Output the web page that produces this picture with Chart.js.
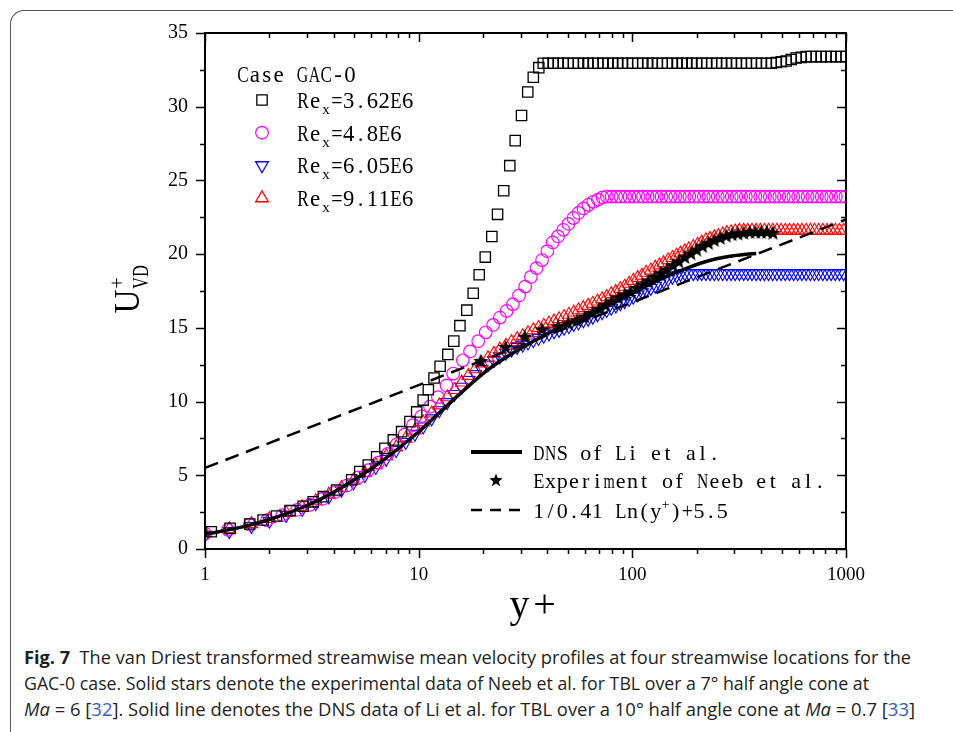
<!DOCTYPE html>
<html>
<head>
<meta charset="utf-8">
<script src="https://cdn.jsdelivr.net/npm/chart.js@4.4.0/dist/chart.umd.min.js"></script>
<style>
  html, body { margin: 0; padding: 0; background: #fff; }
  body { width: 953px; height: 732px; position: relative; overflow: hidden; }
  #frame { position: absolute; left: 10px; top: 10px; width: 990px; height: 780px;
           border-top: 1px solid #555; border-left: 1px solid #555; border-top-left-radius: 14px; }
  #plot { position: absolute; left: 0; top: 0; }
  .cap { position: absolute; left: 24px; white-space: nowrap; font-family: "Open Sans", "Noto Sans", sans-serif;
         font-size: 18px; line-height: 24px; color: #231f20; transform-origin: 0 0; }
  .cap b { font-weight: 700; }
  .ref { color: #2f5fc4; }
</style>
</head>
<body>
<div id="frame"></div>
<canvas id="plot" width="953" height="640"></canvas>
<div class="cap" data-w="887" style="top:645px"><b>Fig. 7</b>&nbsp; The van Driest transformed streamwise mean velocity profiles at four streamwise locations for the</div>
<div class="cap" data-w="845" style="top:671px">GAC-0 case. Solid stars denote the experimental data of Neeb et al. for TBL over a 7° half angle cone at</div>
<div class="cap" data-w="891" style="top:697px"><i>Ma</i> = 6 [<span class="ref">32</span>]. Solid line denotes the DNS data of Li et al. for TBL over a 10° half angle cone at <i>Ma</i> = 0.7 [<span class="ref">33</span>]</div>
<script>
// y+ and van Driest velocity U+_VD at each streamwise station
const sqX = [1.07, 1.31, 1.62, 1.87, 2.16, 2.5, 2.88, 3.21, 3.58, 4.13,
  4.86, 5.3, 5.81, 6.36, 6.95, 7.61, 8.32, 9.1, 9.79, 10.5,
  11.1, 11.8, 12.6, 13.7, 14.6, 15.6, 16.8, 18.0, 19.2, 20.5,
  22.0, 23.4, 25.0, 26.7, 28.3, 30.3, 32.4, 34.4, 36.5, 38.3, 40.4,
  42.6, 45, 47.5, 50, 53, 56, 59, 62, 65.5, 69,
  73, 77, 81, 85.5, 90, 95, 100, 106, 112, 118,
  124, 131, 138, 146, 154, 162, 171, 180, 190, 200,
  211, 223, 235, 248, 262, 276, 291, 307, 324, 342,
  361, 381, 402, 424, 447, 472, 498, 525, 554, 585,
  617, 651, 687, 725, 765, 807, 851, 898, 947, 1000];
const sqY = [1.17, 1.4, 1.7, 1.97, 2.24, 2.6, 2.9, 3.2, 3.55, 4.0,
  4.7, 5.25, 5.7, 6.26, 6.83, 7.4, 7.96, 8.64, 9.3, 10.1,
  10.8, 11.6, 12.4, 13.2, 14.1, 15.15, 16.2, 17.35, 18.6, 19.8,
  21.2, 22.7, 24.3, 26.0, 27.7, 29.4, 31.0, 32.0, 32.65, 32.95, 32.95,
  32.95, 32.95, 32.95, 32.95, 32.95, 32.95, 32.95, 32.95, 32.95, 32.95,
  32.95, 32.95, 32.95, 32.95, 32.95, 32.95, 32.95, 32.95, 32.95, 32.95,
  32.95, 32.95, 32.95, 32.95, 32.95, 32.95, 32.95, 32.95, 32.95, 32.95,
  32.95, 32.95, 32.95, 32.95, 32.95, 32.95, 32.95, 32.95, 32.95, 32.95,
  32.95, 32.95, 32.95, 32.95, 32.95, 33.0, 33.05, 33.1, 33.2, 33.3,
  33.35, 33.4, 33.4, 33.4, 33.4, 33.4, 33.4, 33.4, 33.4, 33.4];

const ciX = [1.0, 1.28, 1.62, 1.95, 2.3, 2.7, 3.1, 3.55, 4.05, 4.6,
  5.2, 5.8, 6.45, 7.15, 7.9, 8.6, 9.4, 10.3, 11.3, 12.3,
  13.5, 14.5, 16.1, 17.4, 19.0, 20.6, 22.3, 24.0, 25.8, 27.6,
  29.5, 31.5, 33.5, 35.6, 37.8, 40.0, 42.4, 44.9, 47.5, 50.2,
  53.0, 56.0, 59.1, 62.3, 65.6, 69.0, 72.5,
  76, 80, 84, 88, 92.5, 97, 102, 107, 112, 118,
  124, 130, 137, 144, 151, 159, 167, 176, 185, 195,
  205, 216, 227, 239, 251, 264, 278, 292, 307, 323,
  340, 358, 377, 397, 418, 440, 463, 487, 512, 539,
  567, 597, 628, 661, 696, 732, 770, 810, 852, 897, 944, 993];
const ciY = [1.05, 1.3, 1.65, 1.95, 2.3, 2.65, 3.0, 3.4, 3.85, 4.3,
  4.85, 5.35, 5.85, 6.45, 7.1, 7.75, 8.4, 9.0, 9.65, 10.3,
  11.1, 11.9, 12.8, 13.4, 14.1, 14.7, 15.2, 15.7, 16.15, 16.6,
  17.2, 17.8, 18.45, 19.05, 19.6, 20.2, 20.8, 21.2, 21.65, 22.05,
  22.45, 22.8, 23.1, 23.35, 23.55, 23.7, 23.85,
  23.9, 23.9, 23.9, 23.9, 23.9, 23.9, 23.9, 23.9, 23.9, 23.9,
  23.9, 23.9, 23.9, 23.9, 23.9, 23.9, 23.9, 23.9, 23.9, 23.9,
  23.9, 23.9, 23.9, 23.9, 23.9, 23.9, 23.9, 23.9, 23.9, 23.9,
  23.9, 23.9, 23.9, 23.9, 23.9, 23.9, 23.9, 23.9, 23.9, 23.9,
  23.9, 23.9, 23.9, 23.9, 23.9, 23.9, 23.9, 23.9, 23.9, 23.9, 23.9, 23.9];

// the two downstream stations share one wall-normal grid
const fineX = [1.0, 1.3, 1.65, 2.0, 2.4, 2.85, 3.3, 3.8, 4.35, 4.95,
  5.6, 6.3, 7.05, 7.85, 8.7, 9.6, 10.5, 11.5, 12.5, 13.6,
  14.7, 15.9, 17.1, 18.4, 19.7, 21.1, 22.5, 24.0, 25.6, 27.2,
  28.9, 30.7, 32.5, 34.4, 36.4, 38.5, 40.7, 43.0, 45.4, 47.9,
  50.5, 53.2, 56.0, 59.0, 62.1, 65.3, 68.7, 72.2, 75.9, 79.7,
  83.7, 87.8, 92.1, 96.6, 101, 106, 111, 116, 122, 128,
  134, 140, 147, 154, 161, 168, 176, 184, 193, 202,
  211, 221, 231, 242, 253, 265, 277, 290, 303, 317,
  332, 347, 363, 380, 397, 415, 434, 454, 475, 497,
  520, 544, 569, 595, 622, 651, 681, 712, 745, 779,
  815, 852, 891, 932, 975];
const blY = [0.95, 1.2, 1.55, 1.9, 2.3, 2.7, 3.1, 3.55, 4.0, 4.5,
  5.0, 5.55, 6.1, 6.7, 7.25, 7.8, 8.3, 8.85, 9.4, 9.95,
  10.5, 11.0, 11.45, 11.85, 12.2, 12.5, 12.8, 13.05, 13.3, 13.5,
  13.7, 13.85, 14.0, 14.15, 14.3, 14.45, 14.6, 14.75, 14.85, 15.0,
  15.1, 15.25, 15.35, 15.5, 15.6, 15.75, 15.9, 16.05, 16.2, 16.35,
  16.5, 16.65, 16.8, 16.95, 17.1, 17.25, 17.4, 17.55, 17.7, 17.85,
  18.0, 18.15, 18.3, 18.45, 18.55, 18.65, 18.7, 18.7, 18.7, 18.7,
  18.7, 18.7, 18.7, 18.7, 18.7, 18.7, 18.7, 18.7, 18.7, 18.7,
  18.7, 18.7, 18.7, 18.7, 18.7, 18.7, 18.7, 18.7, 18.7, 18.7,
  18.7, 18.7, 18.7, 18.7, 18.7, 18.7, 18.7, 18.7, 18.7, 18.7,
  18.7, 18.7, 18.7, 18.7, 18.7];
const rdY = [1.1, 1.35, 1.7, 2.05, 2.45, 2.85, 3.25, 3.7, 4.15, 4.65,
  5.15, 5.7, 6.3, 6.9, 7.5, 8.05, 8.6, 9.2, 9.75, 10.3,
  10.8, 11.3, 11.75, 12.2, 12.6, 12.95, 13.25, 13.55, 13.8, 14.05,
  14.25, 14.45, 14.65, 14.85, 15.0, 15.15, 15.3, 15.45, 15.6, 15.75,
  15.9, 16.05, 16.2, 16.35, 16.5, 16.65, 16.8, 16.95, 17.1, 17.3,
  17.45, 17.65, 17.8, 18.0, 18.2, 18.4, 18.55, 18.75, 18.9, 19.1,
  19.25, 19.4, 19.6, 19.75, 19.9, 20.05, 20.2, 20.35, 20.5, 20.65,
  20.8, 20.95, 21.05, 21.15, 21.25, 21.35, 21.45, 21.5, 21.55, 21.6,
  21.6, 21.6, 21.6, 21.6, 21.6, 21.6, 21.6, 21.6, 21.6, 21.6,
  21.6, 21.6, 21.6, 21.6, 21.6, 21.6, 21.6, 21.6, 21.6, 21.6,
  21.6, 21.6, 21.6, 21.6, 21.6];

// Neeb et al. experiment
const expX = [19.5, 25.5, 31.4, 37.8, 45, 50, 55, 60, 65, 70,
  75, 80, 86, 92, 98, 105, 112, 119, 127, 136,
  145, 155, 165, 176, 188, 200, 213, 227, 242, 258,
  275, 293, 312, 332, 354, 377, 401, 427, 455];
const expY = [12.75, 13.7, 14.4, 14.9, 15.1, 15.3, 15.5, 15.75, 16.0, 16.3,
  16.55, 16.8, 17.05, 17.25, 17.45, 17.7, 17.95, 18.2, 18.45, 18.7,
  18.95, 19.25, 19.5, 19.8, 20.05, 20.3, 20.55, 20.75, 20.95, 21.1,
  21.25, 21.35, 21.4, 21.45, 21.5, 21.5, 21.5, 21.5, 21.45];

// Li et al. DNS
const dnsX = [1, 1.5, 2, 3, 4, 5, 6, 7, 8, 10, 12, 15, 20, 25, 30, 40, 50, 60, 70, 85,
  100, 120, 150, 180, 210, 250, 300, 340, 380];
const dnsY = [1.0, 1.5, 2.0, 2.95, 3.85, 4.7, 5.45, 6.15, 6.8, 7.95, 9.0, 10.3, 11.9, 12.9, 13.6,
  14.6, 15.3, 15.8, 16.25, 16.85, 17.35, 17.95, 18.6, 19.05, 19.4, 19.7, 19.9, 20.0, 20.05];

// log law 1/0.41 ln(y+) + 5.5 at the two ends of the axis
const logLawX = [1, 1000];
const logLawY = [5.5, 22.35];

const xMajor = [1, 10, 100, 1000];
const xMinor = [2, 3, 4, 5, 6, 7, 8, 9, 20, 30, 40, 50, 60, 70, 80, 90, 200, 300, 400, 500, 600, 700, 800, 900];
const yMajor = [0, 5, 10, 15, 20, 25, 30, 35];
const yMinor = [2.5, 7.5, 12.5, 17.5, 22.5, 27.5, 32.5];

const caseTitle = "Case GAC-0";
const reValues = ["3.62E6", "4.8E6", "6.05E6", "9.11E6"];
const reColors = ["#000000", "#ff00ff", "#0000ff", "#ff0000"];
const reStyles = ["rect", "circle", "triangle", "triangle"];
const reRot = [0, 0, 180, 0];
const refLabels = ["DNS of Li et al.", "Experiment of Neeb et al.", "1/0.41 Ln(y", ")+5.5"];

const SERIF = '"Liberation Serif", "DejaVu Serif", serif';

function pts(xs, ys) {
  return xs.map((x, i) => ({ x: x, y: ys[i] }));
}

function makeStar(size) {
  const c = document.createElement("canvas");
  c.width = size;
  c.height = size;
  const g = c.getContext("2d");
  g.beginPath();
  for (let i = 0; i < 10; i++) {
    const r = i % 2 ? size * 0.21 : size * 0.5;
    const a = -Math.PI / 2 + i * Math.PI / 5;
    g.lineTo(size / 2 + r * Math.cos(a), size / 2 + 0.5 + r * Math.sin(a));
  }
  g.closePath();
  g.fillStyle = "#000";
  g.fill();
  return c;
}
const starImg = makeStar(16);
const starSmall = makeStar(14);

// monospaced layout: each glyph centred in a fixed cell, squeezed if too wide
function cellText(ctx, str, x, y, cell) {
  for (let i = 0; i < str.length; i++) {
    const ch = str[i];
    const w = ctx.measureText(ch).width;
    const cx = x + i * cell + cell / 2;
    if (w > cell * 0.96) {
      ctx.save();
      ctx.translate(cx, y);
      ctx.scale(cell * 0.96 / w, 1);
      ctx.fillText(ch, -w / 2, 0);
      ctx.restore();
    } else {
      ctx.fillText(ch, cx - w / 2, y);
    }
  }
  return x + str.length * cell;
}

function marker(ctx, style, rot, r, x, y) {
  ctx.beginPath();
  if (style === "rect") {
    const s = Math.SQRT1_2 * r;
    ctx.rect(x - s, y - s, 2 * s, 2 * s);
  } else if (style === "circle") {
    ctx.arc(x, y, r, 0, Math.PI * 2);
  } else {
    let a = rot * Math.PI / 180;
    for (let k = 0; k < 3; k++) {
      ctx.lineTo(x + Math.sin(a) * r, y - Math.cos(a) * r);
      a += Math.PI * 2 / 3;
    }
    ctx.closePath();
  }
  ctx.stroke();
}

const axesBox = {
  id: "axesBox",
  afterDatasetsDraw(chart) {
    const { ctx, chartArea: a, scales } = chart;
    ctx.save();
    ctx.strokeStyle = "#000";
    ctx.lineWidth = 1.5;
    ctx.beginPath();
    yMajor.forEach(v => {
      const p = Math.round(scales.y.getPixelForValue(v)) + 0.5;
      ctx.moveTo(a.left - 9, p); ctx.lineTo(a.left, p);
      ctx.moveTo(a.right - 9, p); ctx.lineTo(a.right, p);
    });
    yMinor.forEach(v => {
      const p = Math.round(scales.y.getPixelForValue(v)) + 0.5;
      ctx.moveTo(a.left - 5, p); ctx.lineTo(a.left, p);
      ctx.moveTo(a.right - 5, p); ctx.lineTo(a.right, p);
    });
    xMajor.forEach(v => {
      const p = Math.round(scales.x.getPixelForValue(v)) + 0.5;
      ctx.moveTo(p, a.bottom); ctx.lineTo(p, a.bottom + 9);
      ctx.moveTo(p, a.top); ctx.lineTo(p, a.top + 9);
    });
    xMinor.forEach(v => {
      const p = Math.round(scales.x.getPixelForValue(v)) + 0.5;
      ctx.moveTo(p, a.bottom); ctx.lineTo(p, a.bottom + 5);
      ctx.moveTo(p, a.top); ctx.lineTo(p, a.top + 5);
    });
    ctx.stroke();
    ctx.lineWidth = 2;
    ctx.strokeRect(a.left, a.top, a.right - a.left, a.bottom - a.top);
    ctx.restore();
  }
};

const legendsAndTitles = {
  id: "legendsAndTitles",
  afterDraw(chart) {
    const ctx = chart.ctx;
    ctx.save();
    ctx.fillStyle = "#000";
    ctx.textBaseline = "alphabetic";
    ctx.textAlign = "left";

    // station legend
    ctx.font = "23px " + SERIF;
    cellText(ctx, caseTitle, 237, 82, 11.9);
    reValues.forEach((val, i) => {
      const cy = 100 + i * 32.7;
      ctx.strokeStyle = reColors[i];
      ctx.lineWidth = 1.3;
      marker(ctx, reStyles[i], reRot[i], reStyles[i] === "circle" ? 6.3 : 7.3, 262, cy);
      ctx.font = "23px " + SERIF;
      let x = cellText(ctx, "Re", 297, cy + 8, 12);
      ctx.font = "15px " + SERIF;
      x = cellText(ctx, "x", x + 1, cy + 14, 8);
      ctx.font = "23px " + SERIF;
      cellText(ctx, "=" + val, x + 1, cy + 8, 11.8);
    });

    // reference-data legend
    ctx.strokeStyle = "#000";
    ctx.lineWidth = 4;
    ctx.beginPath();
    ctx.moveTo(471, 452); ctx.lineTo(522, 452);
    ctx.stroke();
    ctx.drawImage(starSmall, 496 - 7, 480 - 7);
    ctx.lineWidth = 2.5;
    ctx.setLineDash([11, 8]);
    ctx.beginPath();
    ctx.moveTo(471, 510); ctx.lineTo(522, 510);
    ctx.stroke();
    ctx.setLineDash([]);
    ctx.font = "22px " + SERIF;
    cellText(ctx, refLabels[0], 533, 460, 11.7);
    cellText(ctx, refLabels[1], 533, 488, 11.7);
    let x = cellText(ctx, refLabels[2], 533, 518, 11.7);
    ctx.font = "14px " + SERIF;
    x = cellText(ctx, "+", x, 509, 8);
    ctx.font = "22px " + SERIF;
    cellText(ctx, refLabels[3], x, 518, 11.7);

    // axis titles
    ctx.font = "40px " + SERIF;
    cellText(ctx, "y+", 507, 617, 25);

    ctx.translate(139, 314);
    ctx.rotate(-Math.PI / 2);
    ctx.font = "35px " + SERIF;
    cellText(ctx, "U", 0, 0, 25);
    ctx.font = "21px " + SERIF;
    cellText(ctx, "+", 25, -15, 12);
    ctx.font = "23px " + SERIF;
    cellText(ctx, "VD", 25, 9, 12);
    ctx.restore();
  }
};

const ctx = document.getElementById("plot").getContext("2d");
const myChart = new Chart(ctx, {
  type: "scatter",
  plugins: [axesBox, legendsAndTitles],
  data: {
    datasets: [
      {
        label: "log law",
        data: pts(logLawX, logLawY),
        showLine: true,
        borderColor: "#000",
        borderWidth: 2.5,
        borderDash: [14, 8],
        pointRadius: 0,
        order: 0,
      },
      {
        label: "DNS of Li et al.",
        data: pts(dnsX, dnsY),
        showLine: true,
        borderColor: "#000",
        borderWidth: 3.5,
        cubicInterpolationMode: "monotone",
        pointRadius: 0,
        order: 1,
      },
      {
        label: "Experiment of Neeb et al.",
        data: pts(expX, expY),
        pointStyle: starImg,
        pointRadius: 8,
        order: 2,
      },
      {
        label: "Re_x=3.62E6",
        data: pts(sqX, sqY),
        pointStyle: "rect",
        pointRadius: 7.3,
        borderColor: reColors[0],
        backgroundColor: "rgba(0,0,0,0)",
        borderWidth: 1.3,
        order: 3,
      },
      {
        label: "Re_x=4.8E6",
        data: pts(ciX, ciY),
        pointStyle: "circle",
        pointRadius: 6.3,
        borderColor: reColors[1],
        backgroundColor: "rgba(0,0,0,0)",
        borderWidth: 1.2,
        order: 4,
      },
      {
        label: "Re_x=9.11E6",
        data: pts(fineX, rdY),
        pointStyle: "triangle",
        pointRadius: 7.3,
        borderColor: reColors[3],
        backgroundColor: "rgba(0,0,0,0)",
        borderWidth: 1.1,
        order: 5,
      },
      {
        label: "Re_x=6.05E6",
        data: pts(fineX, blY),
        pointStyle: "triangle",
        pointRotation: 180,
        pointRadius: 7.3,
        borderColor: reColors[2],
        backgroundColor: "rgba(0,0,0,0)",
        borderWidth: 1.1,
        order: 6,
      },
    ],
  },
  options: {
    responsive: false,
    animation: false,
    devicePixelRatio: 1,
    layout: { padding: { left: 0, top: 33, right: 107, bottom: 0 } },
    plugins: { legend: { display: false }, tooltip: { enabled: false } },
    scales: {
      x: {
        type: "logarithmic",
        min: 1,
        max: 1000,
        grid: { display: false, drawTicks: false },
        border: { display: false },
        afterBuildTicks: (scale) => {
          scale.ticks = xMajor.map(v => ({ value: v }));
        },
        afterFit: (scale) => { scale.height = 91; },
        ticks: {
          autoSkip: false,
          maxRotation: 0,
          padding: 15,
          color: "#000",
          font: { family: SERIF, size: 19 },
          callback: (v) => String(v),
        },
      },
      y: {
        min: 0,
        max: 35,
        grid: { display: false, drawTicks: false },
        border: { display: false },
        afterBuildTicks: (scale) => {
          scale.ticks = yMajor.map(v => ({ value: v }));
        },
        afterFit: (scale) => { scale.width = 205; },
        ticks: {
          padding: 17,
          color: "#000",
          font: { family: SERIF, size: 20 },
        },
      },
    },
  },
});

// fit each caption line to its column width
document.querySelectorAll(".cap").forEach(el => {
  const w = el.getBoundingClientRect().width;
  el.style.transform = "scaleX(" + (Number(el.dataset.w) / w) + ")";
});
</script>
</body>
</html>
